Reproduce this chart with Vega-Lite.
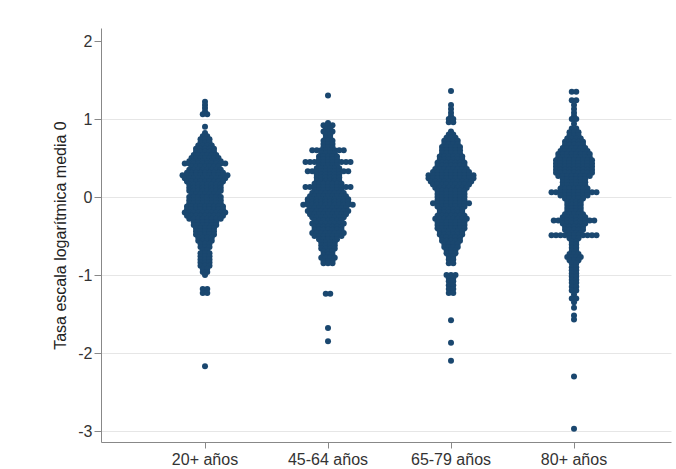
{
  "$schema": "https://vega.github.io/schema/vega-lite/v6.json",
  "autosize": "none",
  "width": 570,
  "height": 414,
  "padding": {"left": 101, "top": 28, "right": 5, "bottom": 27},
  "background": "white",
  "data": {
    "values": [
      {"g": "20+ años", "y": [1.22,1.18,1.14,1.1,1.06,1.06,0.9,0.82,0.78,0.78,0.74,0.74,0.74,0.7,0.7,0.7,0.66,0.66,0.66,0.66,0.62,0.62,0.62,0.62,0.62,0.58,0.58,0.58,0.58,0.58,0.54,0.54,0.54,0.54,0.54,0.54,0.5,0.5,0.5,0.5,0.5,0.5,0.5,0.46,0.46,0.46,0.46,0.46,0.46,0.46,0.46,0.43,0.43,0.43,0.43,0.43,0.43,0.43,0.43,0.43,0.43,0.39,0.39,0.39,0.39,0.39,0.39,0.39,0.35,0.35,0.35,0.35,0.35,0.35,0.35,0.35,0.31,0.31,0.31,0.31,0.31,0.31,0.31,0.31,0.31,0.28,0.28,0.28,0.28,0.28,0.28,0.28,0.28,0.28,0.28,0.28,0.24,0.24,0.24,0.24,0.24,0.24,0.24,0.24,0.24,0.24,0.2,0.2,0.2,0.2,0.2,0.2,0.2,0.2,0.2,0.16,0.16,0.16,0.16,0.16,0.16,0.16,0.16,0.12,0.12,0.12,0.12,0.12,0.12,0.12,0.12,0.08,0.08,0.08,0.08,0.08,0.08,0.08,0.08,0.04,0.04,0.04,0.04,0.04,0.04,0.04,0,0,0,0,0,0,0,0,-0.04,-0.04,-0.04,-0.04,-0.04,-0.04,-0.04,-0.04,-0.08,-0.08,-0.08,-0.08,-0.08,-0.08,-0.08,-0.08,-0.12,-0.12,-0.12,-0.12,-0.12,-0.12,-0.12,-0.12,-0.12,-0.16,-0.16,-0.16,-0.16,-0.16,-0.16,-0.16,-0.16,-0.16,-0.2,-0.2,-0.2,-0.2,-0.2,-0.2,-0.2,-0.2,-0.2,-0.2,-0.24,-0.24,-0.24,-0.24,-0.24,-0.24,-0.24,-0.24,-0.24,-0.28,-0.28,-0.28,-0.28,-0.28,-0.28,-0.28,-0.28,-0.32,-0.32,-0.32,-0.32,-0.32,-0.32,-0.36,-0.36,-0.36,-0.36,-0.36,-0.36,-0.4,-0.4,-0.4,-0.4,-0.4,-0.44,-0.44,-0.44,-0.44,-0.44,-0.48,-0.48,-0.48,-0.48,-0.48,-0.52,-0.52,-0.52,-0.52,-0.56,-0.56,-0.56,-0.56,-0.6,-0.6,-0.6,-0.64,-0.64,-0.64,-0.68,-0.68,-0.72,-0.72,-0.72,-0.76,-0.76,-0.76,-0.8,-0.8,-0.8,-0.84,-0.84,-0.84,-0.88,-0.88,-0.88,-0.92,-0.92,-0.96,-0.96,-1,-1.18,-1.18,-1.23,-1.23,-2.17]},
      {"g": "45-64 años", "y": [1.3,0.95,0.92,0.92,0.92,0.88,0.88,0.84,0.84,0.84,0.8,0.8,0.76,0.76,0.72,0.72,0.72,0.68,0.68,0.68,0.64,0.64,0.64,0.6,0.6,0.6,0.6,0.6,0.6,0.6,0.6,0.56,0.56,0.56,0.56,0.52,0.52,0.52,0.52,0.52,0.48,0.48,0.48,0.48,0.48,0.45,0.45,0.45,0.45,0.45,0.45,0.45,0.45,0.45,0.45,0.45,0.41,0.41,0.41,0.41,0.41,0.37,0.37,0.37,0.37,0.37,0.37,0.33,0.33,0.33,0.33,0.33,0.33,0.33,0.33,0.33,0.33,0.29,0.29,0.29,0.29,0.29,0.29,0.25,0.25,0.25,0.25,0.25,0.25,0.21,0.21,0.21,0.21,0.21,0.21,0.17,0.17,0.17,0.17,0.17,0.17,0.17,0.13,0.13,0.13,0.13,0.13,0.13,0.13,0.13,0.13,0.13,0.13,0.09,0.09,0.09,0.09,0.09,0.09,0.09,0.05,0.05,0.05,0.05,0.05,0.05,0.05,0.05,0.01,0.01,0.01,0.01,0.01,0.01,0.01,0.01,0.01,-0.03,-0.03,-0.03,-0.03,-0.03,-0.03,-0.03,-0.03,-0.03,-0.03,-0.06,-0.06,-0.06,-0.06,-0.06,-0.06,-0.06,-0.06,-0.06,-0.06,-0.1,-0.1,-0.1,-0.1,-0.1,-0.1,-0.1,-0.1,-0.1,-0.1,-0.1,-0.1,-0.14,-0.14,-0.14,-0.14,-0.14,-0.14,-0.14,-0.14,-0.14,-0.18,-0.18,-0.18,-0.18,-0.18,-0.18,-0.18,-0.18,-0.18,-0.18,-0.22,-0.22,-0.22,-0.22,-0.22,-0.22,-0.22,-0.22,-0.22,-0.26,-0.26,-0.26,-0.26,-0.26,-0.26,-0.26,-0.26,-0.3,-0.3,-0.3,-0.3,-0.3,-0.3,-0.3,-0.34,-0.34,-0.34,-0.34,-0.34,-0.34,-0.34,-0.34,-0.38,-0.38,-0.38,-0.38,-0.38,-0.38,-0.38,-0.42,-0.42,-0.42,-0.42,-0.42,-0.42,-0.42,-0.46,-0.46,-0.46,-0.46,-0.46,-0.46,-0.46,-0.46,-0.5,-0.5,-0.5,-0.5,-0.5,-0.5,-0.5,-0.54,-0.54,-0.54,-0.54,-0.54,-0.58,-0.58,-0.58,-0.58,-0.62,-0.62,-0.62,-0.62,-0.66,-0.66,-0.66,-0.66,-0.7,-0.7,-0.7,-0.74,-0.74,-0.74,-0.78,-0.78,-0.78,-0.78,-0.82,-0.82,-0.82,-0.85,-0.85,-0.85,-1.24,-1.24,-1.68,-1.85]},
      {"g": "65-79 años", "y": [1.36,1.18,1.13,1.08,1.04,1,1,0.96,0.96,0.84,0.8,0.8,0.76,0.76,0.76,0.72,0.72,0.72,0.72,0.68,0.68,0.68,0.68,0.64,0.64,0.64,0.64,0.64,0.6,0.6,0.6,0.6,0.6,0.56,0.56,0.56,0.56,0.56,0.52,0.52,0.52,0.52,0.52,0.52,0.48,0.48,0.48,0.48,0.48,0.48,0.44,0.44,0.44,0.44,0.44,0.44,0.44,0.4,0.4,0.4,0.4,0.4,0.4,0.4,0.36,0.36,0.36,0.36,0.36,0.36,0.36,0.36,0.32,0.32,0.32,0.32,0.32,0.32,0.32,0.32,0.32,0.28,0.28,0.28,0.28,0.28,0.28,0.28,0.28,0.28,0.28,0.28,0.24,0.24,0.24,0.24,0.24,0.24,0.24,0.24,0.24,0.24,0.24,0.2,0.2,0.2,0.2,0.2,0.2,0.2,0.2,0.2,0.2,0.16,0.16,0.16,0.16,0.16,0.16,0.16,0.16,0.16,0.12,0.12,0.12,0.12,0.12,0.12,0.12,0.12,0.08,0.08,0.08,0.08,0.08,0.08,0.08,0.04,0.04,0.04,0.04,0.04,0.04,0.04,0,0,0,0,0,0,0,-0.04,-0.04,-0.04,-0.04,-0.04,-0.04,-0.04,-0.08,-0.08,-0.08,-0.08,-0.08,-0.08,-0.08,-0.08,-0.08,-0.12,-0.12,-0.12,-0.12,-0.12,-0.12,-0.12,-0.16,-0.16,-0.16,-0.16,-0.16,-0.16,-0.2,-0.2,-0.2,-0.2,-0.2,-0.2,-0.24,-0.24,-0.24,-0.24,-0.24,-0.24,-0.24,-0.28,-0.28,-0.28,-0.28,-0.28,-0.28,-0.28,-0.28,-0.32,-0.32,-0.32,-0.32,-0.32,-0.32,-0.32,-0.36,-0.36,-0.36,-0.36,-0.36,-0.36,-0.36,-0.4,-0.4,-0.4,-0.4,-0.4,-0.4,-0.4,-0.44,-0.44,-0.44,-0.44,-0.44,-0.44,-0.48,-0.48,-0.48,-0.48,-0.48,-0.48,-0.52,-0.52,-0.52,-0.52,-0.52,-0.56,-0.56,-0.56,-0.56,-0.56,-0.6,-0.6,-0.6,-0.6,-0.64,-0.64,-0.64,-0.64,-0.68,-0.68,-0.68,-0.72,-0.72,-0.72,-0.76,-0.76,-0.8,-0.8,-0.85,-0.85,-1,-1,-1,-1.04,-1.04,-1.08,-1.08,-1.13,-1.13,-1.18,-1.18,-1.23,-1.23,-1.58,-1.87,-2.1]},
      {"g": "80+ años", "y": [1.35,1.35,1.24,1.24,1.18,1.13,1.08,1.04,1,1,0.94,0.88,0.88,0.83,0.83,0.83,0.79,0.79,0.79,0.75,0.75,0.75,0.75,0.71,0.71,0.71,0.71,0.71,0.67,0.67,0.67,0.67,0.67,0.63,0.63,0.63,0.63,0.63,0.63,0.59,0.59,0.59,0.59,0.59,0.59,0.59,0.55,0.55,0.55,0.55,0.55,0.55,0.55,0.55,0.51,0.51,0.51,0.51,0.51,0.51,0.51,0.51,0.47,0.47,0.47,0.47,0.47,0.47,0.47,0.47,0.47,0.43,0.43,0.43,0.43,0.43,0.43,0.43,0.43,0.43,0.39,0.39,0.39,0.39,0.39,0.39,0.39,0.39,0.39,0.35,0.35,0.35,0.35,0.35,0.35,0.35,0.35,0.35,0.31,0.31,0.31,0.31,0.31,0.31,0.31,0.31,0.31,0.27,0.27,0.27,0.27,0.27,0.27,0.27,0.27,0.23,0.23,0.23,0.23,0.23,0.23,0.19,0.19,0.19,0.19,0.19,0.19,0.15,0.15,0.15,0.15,0.15,0.15,0.11,0.11,0.11,0.11,0.11,0.11,0.11,0.06,0.06,0.06,0.06,0.06,0.06,0.06,0.06,0.06,0.06,0.06,0.02,0.02,0.02,0.02,0.02,0.02,0.02,-0.02,-0.02,-0.02,-0.02,-0.02,-0.06,-0.06,-0.06,-0.06,-0.1,-0.1,-0.1,-0.1,-0.14,-0.14,-0.14,-0.14,-0.18,-0.18,-0.18,-0.18,-0.22,-0.22,-0.22,-0.22,-0.22,-0.26,-0.26,-0.26,-0.26,-0.26,-0.26,-0.3,-0.3,-0.3,-0.3,-0.3,-0.3,-0.3,-0.3,-0.3,-0.3,-0.34,-0.34,-0.34,-0.34,-0.34,-0.34,-0.38,-0.38,-0.38,-0.38,-0.38,-0.42,-0.42,-0.42,-0.42,-0.42,-0.46,-0.46,-0.46,-0.46,-0.49,-0.49,-0.49,-0.49,-0.49,-0.49,-0.49,-0.49,-0.49,-0.49,-0.49,-0.53,-0.53,-0.53,-0.57,-0.57,-0.61,-0.61,-0.65,-0.65,-0.69,-0.69,-0.73,-0.73,-0.73,-0.77,-0.77,-0.77,-0.77,-0.81,-0.81,-0.81,-0.85,-0.85,-0.9,-0.9,-0.94,-0.94,-0.98,-0.98,-1.02,-1.02,-1.06,-1.06,-1.1,-1.1,-1.15,-1.15,-1.2,-1.2,-1.25,-1.3,-1.3,-1.35,-1.42,-1.52,-1.57,-2.3,-2.97]}
    ]
  },
  "transform": [
    {"flatten": ["y"]},
    {"window": [{"op": "row_number", "as": "r"}], "groupby": ["g", "y"]},
    {"joinaggregate": [{"op": "count", "as": "cnt"}], "groupby": ["g", "y"]},
    {"calculate": "datum.r - (datum.cnt + 1) / 2", "as": "off"}
  ],
  "mark": {"type": "circle", "size": 36, "opacity": 1, "color": "#1a476f"},
  "encoding": {
    "x": {
      "field": "g",
      "type": "nominal",
      "sort": ["20+ años", "45-64 años", "65-79 años", "80+ años"],
      "scale": {"type": "band", "paddingInner": 0, "paddingOuter": 0.317, "align": 0.545},
      "axis": {
        "title": null,
        "labelAngle": 0,
        "labelFont": "Liberation Sans",
        "labelFontSize": 16,
        "labelColor": "#333333",
        "labelPadding": 3,
        "tickSize": 6,
        "tickColor": "#888888",
        "domainColor": "#888888",
        "grid": false
      }
    },
    "xOffset": {
      "field": "off",
      "type": "quantitative",
      "scale": {"domain": [-13.67, 13.67], "range": [0, 123]}
    },
    "y": {
      "field": "y",
      "type": "quantitative",
      "scale": {"domain": [-3.141, 2.167], "nice": false, "zero": false},
      "axis": {
        "title": "Tasa escala logarítmica media 0",
        "titleFont": "Liberation Sans",
        "titleFontSize": 16,
        "titleFontWeight": "normal",
        "titleColor": "#222222",
        "titlePadding": 9,
        "values": [-3, -2, -1, 0, 1, 2],
        "labelExpr": "'' + datum.value",
        "labelFont": "Liberation Sans",
        "labelFontSize": 16,
        "labelColor": "#333333",
        "labelPadding": 2,
        "tickSize": 7,
        "tickColor": "#888888",
        "domainColor": "#888888",
        "grid": true,
        "gridColor": "#e6e6e6",
        "gridOpacity": {"condition": {"test": "datum.value == 2", "value": 0}, "value": 1}
      }
    }
  },
  "config": {
    "view": {"stroke": null}
  }
}
